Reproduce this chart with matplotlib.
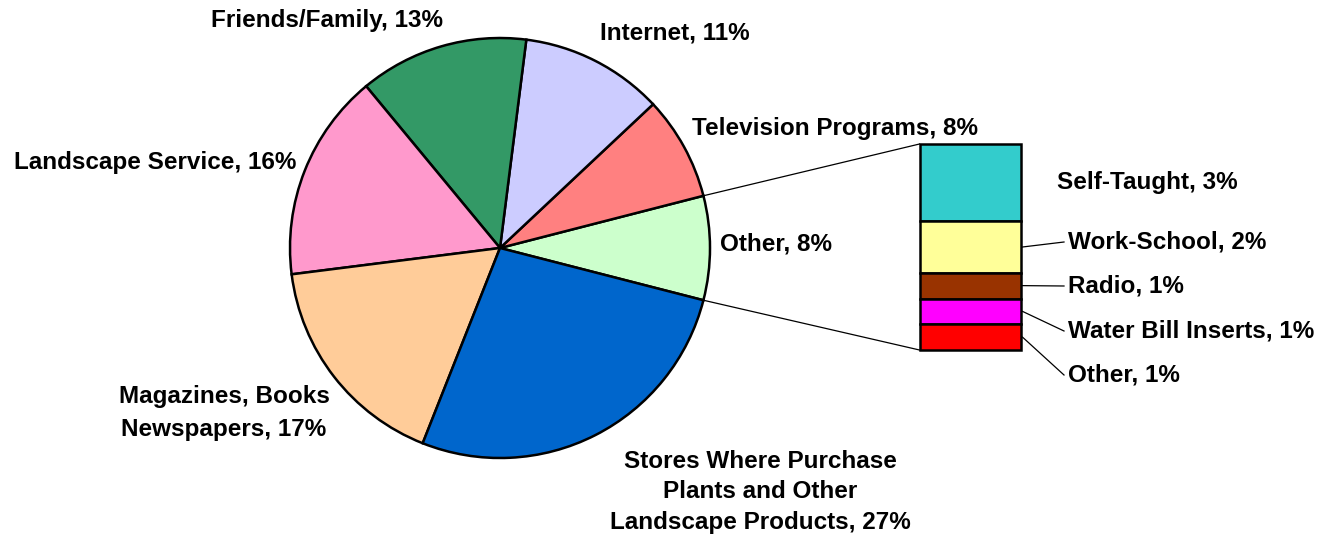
import numpy as np
import matplotlib.pyplot as plt

# Main pie (counter-clockwise starting from the "Other" wedge)
pie_labels = ['Other', 'Television Programs', 'Internet', 'Friends/Family',
              'Landscape Service', 'Magazines, Books\nNewspapers',
              'Stores Where Purchase\nPlants and Other\nLandscape Products']
pie_values = [8, 8, 11, 13, 16, 17, 27]
pie_colors = ['#CCFFCC', '#FF8080', '#CCCCFF', '#339966',
              '#FF99CC', '#FFCC99', '#0066CC']

# Breakdown of "Other" (top to bottom)
bar_labels = ['Self-Taught', 'Work-School', 'Radio', 'Water Bill Inserts', 'Other']
bar_values = [3, 2, 1, 1, 1]
bar_colors = ['#33CCCC', '#FFFF99', '#993300', '#FF00FF', '#FF0000']

W, H = 1324, 539
fig = plt.figure(figsize=(W / 100, H / 100), dpi=100)
ax = fig.add_axes([0, 0, 1, 1])
plt.rcParams['font.family'] = ['Liberation Sans', 'DejaVu Sans']

cx, cy, r = 500, H - 248, 210
start = -pie_values[0] / sum(pie_values) * 360 / 2
ax.pie(pie_values, colors=pie_colors, startangle=start, counterclock=True,
       center=(cx, cy), radius=r, frame=True,
       wedgeprops=dict(edgecolor='black', linewidth=1.8))

# stacked bar for the "Other" slice
bx, bw = 970, 101
unit = 206 / sum(bar_values)
top = H - 144
heights = np.array(bar_values) * unit
bottoms = top - np.cumsum(heights)
ax.bar([bx] * len(bar_values), heights, bottom=bottoms, width=bw,
       color=bar_colors, edgecolor='black', linewidth=1.8)

# connectors from the pie wedge edges to the bar corners
a = np.deg2rad(abs(start))
ax.plot([cx + r * np.cos(a), bx - bw / 2], [cy + r * np.sin(a), top],
        color='black', lw=0.9)
ax.plot([cx + r * np.cos(a), bx - bw / 2], [cy - r * np.sin(a), bottoms[-1]],
        color='black', lw=0.9)

fs = 17.5
kw = dict(fontsize=fs, fontweight='bold', color='black')

# pie labels: x, y, alignment, line spacing
pie_pos = [(720, 244, 'left', 1.2), (692, 128, 'left', 1.2),
           (600, 33, 'left', 1.2), (211, 20, 'left', 1.2),
           (14, 163, 'left', 1.2), (224, 413, 'center', 1.55),
           (760, 492, 'center', 1.4)]
for lab, v, (x, y, ha, ls) in zip(pie_labels, pie_values, pie_pos):
    ax.text(x, H - y, f'{lab}, {v}%', ha=ha, va='center',
            multialignment='center', linespacing=ls, **kw)

# bar labels with leader lines
mids = bottoms + heights / 2
lab_y = [183, 242, 286, 331, 375]
ax.text(1057, H - lab_y[0], f'{bar_labels[0]}, {bar_values[0]}%',
        ha='left', va='center', **kw)
for lab, v, m, y in zip(bar_labels[1:], bar_values[1:], mids[1:], lab_y[1:]):
    ax.plot([bx + bw / 2 + 2, 1064], [m, H - y], color='black', lw=0.9)
    ax.text(1068, H - y, f'{lab}, {v}%', ha='left', va='center', **kw)

ax.set_xlim(0, W)
ax.set_ylim(0, H)
ax.set_aspect('equal')
ax.axis('off')
fig.savefig('out.png', dpi=100)
